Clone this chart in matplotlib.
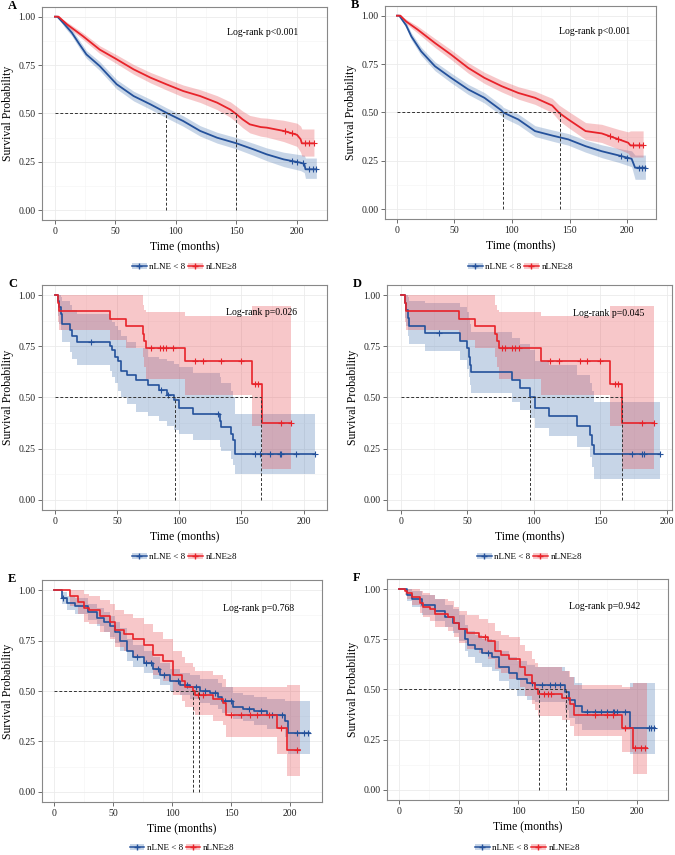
import numpy as np
import matplotlib
matplotlib.use('Agg')
import matplotlib.pyplot as plt
from matplotlib.patches import Patch
from matplotlib.lines import Line2D

plt.rcParams['font.family'] = ['Liberation Serif', 'DejaVu Serif']

# ---------------- dados ----------------
labels = ['nLNE < 8', 'nLNE\u22658']
panel_letters = ['A', 'B', 'C', 'D', 'E', 'F']
pvalues = ['Log-rank p<0.001', 'Log-rank p<0.001', 'Log-rank p=0.026',
           'Log-rank p=0.045', 'Log-rank p=0.768', 'Log-rank p=0.942']
xticks = [0, 50, 100, 150, 200]
yticks = [0.0, 0.25, 0.5, 0.75, 1.0]

# A
a_blue_t = [0, 2, 8, 14, 20, 26, 37, 51, 65, 79, 92, 106, 120, 134, 150, 164, 175, 189, 203, 206, 207, 216]
a_blue_s = [1.0, 1.0, 0.96, 0.917, 0.86, 0.805, 0.745, 0.651, 0.59, 0.547, 0.504, 0.461, 0.41, 0.375, 0.346, 0.315, 0.289, 0.263, 0.246, 0.24, 0.212, 0.212]
a_blue_lo = [1.0, 1.0, 0.945, 0.9, 0.84, 0.785, 0.722, 0.627, 0.565, 0.521, 0.478, 0.434, 0.383, 0.347, 0.317, 0.284, 0.256, 0.226, 0.205, 0.195, 0.165, 0.165]
a_blue_hi = [1.0, 1.0, 0.975, 0.934, 0.88, 0.825, 0.768, 0.675, 0.615, 0.573, 0.53, 0.488, 0.437, 0.403, 0.375, 0.346, 0.322, 0.3, 0.287, 0.285, 0.27, 0.27]
a_blue_cens = [196, 200, 205, 210, 213, 216]
a_red_t = [0, 3, 10, 23, 37, 51, 65, 79, 92, 106, 120, 134, 145, 150, 155, 161, 170, 175, 189, 200, 203, 204, 214]
a_red_s = [1.0, 1.0, 0.96, 0.90, 0.83, 0.78, 0.728, 0.685, 0.651, 0.616, 0.59, 0.556, 0.52, 0.496, 0.47, 0.444, 0.43, 0.427, 0.41, 0.39, 0.367, 0.346, 0.346]
a_red_lo = [1.0, 1.0, 0.948, 0.883, 0.81, 0.757, 0.703, 0.658, 0.622, 0.585, 0.557, 0.52, 0.48, 0.455, 0.427, 0.4, 0.383, 0.378, 0.355, 0.33, 0.3, 0.28, 0.28]
a_red_hi = [1.0, 1.0, 0.972, 0.917, 0.85, 0.803, 0.753, 0.712, 0.68, 0.647, 0.623, 0.592, 0.56, 0.537, 0.513, 0.49, 0.478, 0.476, 0.465, 0.45, 0.435, 0.42, 0.42]
a_red_cens = [190, 196, 207, 210, 214]
a_medians = [92, 150]

# B
b_blue_t = [0, 2, 8, 12.5, 21, 33, 47, 62, 76, 91, 92.4, 105.5, 120, 135, 149, 164, 178, 193, 204, 207, 216]
b_blue_s = [1, 1, 0.95, 0.893, 0.816, 0.739, 0.679, 0.619, 0.576, 0.51, 0.50, 0.464, 0.404, 0.381, 0.361, 0.326, 0.30, 0.278, 0.261, 0.215, 0.215]
b_blue_lo = [1, 1, 0.935, 0.875, 0.795, 0.716, 0.654, 0.593, 0.549, 0.483, 0.473, 0.436, 0.376, 0.352, 0.331, 0.295, 0.267, 0.242, 0.22, 0.155, 0.155]
b_blue_hi = [1, 1, 0.965, 0.911, 0.837, 0.762, 0.704, 0.645, 0.603, 0.537, 0.527, 0.492, 0.432, 0.41, 0.391, 0.357, 0.333, 0.314, 0.302, 0.28, 0.28]
b_blue_cens = [195, 200, 210, 213, 216]
b_red_t = [0, 3, 8, 18, 33, 47, 62, 76, 91, 105.5, 120, 135, 141, 149, 164, 178, 193, 201, 203, 214]
b_red_s = [1, 1, 0.97, 0.928, 0.859, 0.799, 0.73, 0.679, 0.636, 0.601, 0.576, 0.536, 0.498, 0.464, 0.404, 0.392, 0.361, 0.344, 0.33, 0.33]
b_red_lo = [1, 1, 0.958, 0.91, 0.836, 0.774, 0.703, 0.65, 0.606, 0.569, 0.542, 0.499, 0.458, 0.422, 0.36, 0.345, 0.31, 0.29, 0.27, 0.27]
b_red_hi = [1, 1, 0.982, 0.946, 0.882, 0.824, 0.757, 0.708, 0.666, 0.633, 0.61, 0.573, 0.538, 0.506, 0.448, 0.439, 0.412, 0.4, 0.405, 0.405]
b_red_cens = [185, 192, 205, 210, 214]
b_medians = [92, 142]

# C
c_blue_t = [0, 2.7, 3.5, 4.5, 5.5, 12, 13.5, 17.5, 44, 46, 48, 51, 53, 58, 65.5, 75, 84, 90, 96, 100, 111, 132.5, 134, 142, 143.5, 145, 209]
c_blue_s = [1, 0.97, 0.94, 0.91, 0.86, 0.83, 0.80, 0.77, 0.75, 0.73, 0.70, 0.68, 0.63, 0.61, 0.585, 0.56, 0.535, 0.51, 0.49, 0.45, 0.42, 0.385, 0.355, 0.32, 0.29, 0.225, 0.225]
c_blue_lo = [1, 0.90, 0.86, 0.83, 0.77, 0.72, 0.69, 0.66, 0.63, 0.60, 0.57, 0.53, 0.50, 0.47, 0.43, 0.41, 0.385, 0.36, 0.34, 0.32, 0.29, 0.26, 0.24, 0.20, 0.17, 0.125, 0.125]
c_blue_hi = [1, 1, 1, 0.99, 0.97, 0.95, 0.93, 0.91, 0.89, 0.87, 0.85, 0.83, 0.80, 0.77, 0.74, 0.70, 0.69, 0.68, 0.665, 0.65, 0.62, 0.60, 0.57, 0.53, 0.50, 0.42, 0.42]
c_blue_cens = [29, 85, 91, 131, 161, 165, 173, 181, 182, 194, 209]
c_red_t = [0, 2.7, 3.5, 44, 57, 71, 72, 73.6, 105, 158.5, 167, 190]
c_red_s = [1, 0.96, 0.925, 0.886, 0.85, 0.81, 0.775, 0.74, 0.678, 0.565, 0.377, 0.377]
c_red_lo = [1, 0.87, 0.83, 0.78, 0.74, 0.70, 0.65, 0.59, 0.51, 0.36, 0.15, 0.15]
c_red_hi = [1, 1, 1, 1, 1, 0.95, 0.93, 0.92, 0.90, 0.946, 0.946, 0.946]
c_red_cens = [77.6, 84.3, 87, 89.6, 95, 112.4, 119, 134, 150, 160.6, 163.3, 182, 190]
c_medians = [97, 166]

# D
d_blue_t = [0, 3.3, 4, 5, 6, 18, 44.6, 49.6, 51, 52, 53, 83.5, 89.7, 97, 100.5, 111, 132, 142, 143.6, 145, 195]
d_blue_s = [1, 0.96, 0.93, 0.89, 0.85, 0.815, 0.775, 0.74, 0.70, 0.66, 0.625, 0.585, 0.545, 0.50, 0.45, 0.41, 0.36, 0.315, 0.27, 0.225, 0.225]
d_blue_lo = [1, 0.89, 0.85, 0.80, 0.76, 0.725, 0.685, 0.64, 0.60, 0.56, 0.52, 0.48, 0.44, 0.40, 0.35, 0.31, 0.26, 0.21, 0.16, 0.10, 0.10]
d_blue_hi = [1, 1, 1, 0.99, 0.97, 0.96, 0.94, 0.92, 0.89, 0.86, 0.82, 0.79, 0.76, 0.73, 0.68, 0.66, 0.61, 0.57, 0.53, 0.48, 0.48]
d_blue_cens = [28.3, 173.7, 181.2, 182.5, 195]
d_red_t = [0, 2.8, 4, 44, 56, 71, 72, 73.4, 105, 157.4, 166, 190]
d_red_s = [1, 0.96, 0.925, 0.886, 0.85, 0.81, 0.775, 0.74, 0.678, 0.565, 0.377, 0.377]
d_red_lo = [1, 0.87, 0.83, 0.78, 0.74, 0.70, 0.65, 0.59, 0.51, 0.36, 0.15, 0.15]
d_red_hi = [1, 1, 1, 1, 1, 0.95, 0.93, 0.92, 0.90, 0.946, 0.946, 0.946]
d_red_cens = [76, 78.4, 83.5, 86, 88.5, 112.3, 118.5, 134.8, 139.8, 149.9, 160.6, 163.2, 181.2, 190]
d_medians = [97, 166]

# E
e_blue_t = [0, 6.5, 11, 18, 29, 36, 42, 47.5, 52, 56, 61.6, 67, 76, 84, 90, 98, 107, 115, 124, 132, 139, 142, 152, 160, 169, 180, 196, 198.6, 217]
e_blue_s = [1, 0.96, 0.935, 0.92, 0.89, 0.86, 0.84, 0.82, 0.79, 0.75, 0.70, 0.67, 0.64, 0.61, 0.58, 0.55, 0.53, 0.52, 0.50, 0.49, 0.47, 0.45, 0.42, 0.41, 0.40, 0.38, 0.35, 0.29, 0.29]
e_blue_lo = [1, 0.93, 0.9, 0.88, 0.85, 0.82, 0.79, 0.77, 0.74, 0.70, 0.65, 0.62, 0.59, 0.56, 0.53, 0.50, 0.48, 0.46, 0.44, 0.43, 0.41, 0.39, 0.36, 0.35, 0.33, 0.31, 0.27, 0.19, 0.19]
e_blue_hi = [1, 0.99, 0.97, 0.96, 0.93, 0.91, 0.89, 0.87, 0.84, 0.81, 0.76, 0.73, 0.70, 0.67, 0.64, 0.61, 0.59, 0.58, 0.56, 0.56, 0.54, 0.52, 0.49, 0.48, 0.47, 0.46, 0.45, 0.45, 0.45]
e_blue_cens = [8, 70, 78, 82, 88, 93, 105, 113, 120, 128, 136, 145, 150, 165, 175, 185, 193, 206, 212, 215]
e_red_t = [0, 13.5, 20.6, 25, 30, 39, 47.5, 52, 59, 67, 76, 84, 92.6, 101, 108, 111, 118, 119.5, 135, 143.5, 146, 189, 197, 208]
e_red_s = [1, 0.97, 0.94, 0.91, 0.90, 0.87, 0.84, 0.80, 0.78, 0.76, 0.73, 0.68, 0.65, 0.58, 0.55, 0.52, 0.50, 0.48, 0.46, 0.44, 0.38, 0.315, 0.21, 0.21]
e_red_lo = [1, 0.92, 0.88, 0.84, 0.83, 0.79, 0.76, 0.72, 0.70, 0.67, 0.64, 0.58, 0.55, 0.48, 0.45, 0.42, 0.40, 0.38, 0.35, 0.33, 0.27, 0.19, 0.08, 0.08]
e_red_hi = [1, 1, 1, 0.98, 0.97, 0.95, 0.93, 0.90, 0.88, 0.86, 0.83, 0.79, 0.76, 0.70, 0.67, 0.64, 0.62, 0.60, 0.58, 0.56, 0.52, 0.52, 0.53, 0.53]
e_red_cens = [122, 126, 150, 158, 166, 172, 182, 192, 206]
e_medians = [123, 118]

# F
f_blue_t = [0, 6.5, 10.7, 19, 30, 38.7, 45.7, 50, 55.5, 58, 64, 69.5, 78, 83.6, 92, 99, 107.4, 114.4, 139.7, 142.5, 148, 153.7, 194.4, 215]
f_blue_s = [1, 0.97, 0.95, 0.92, 0.89, 0.86, 0.83, 0.80, 0.75, 0.72, 0.70, 0.68, 0.66, 0.61, 0.58, 0.55, 0.53, 0.52, 0.49, 0.45, 0.42, 0.39, 0.31, 0.31]
f_blue_lo = [1, 0.94, 0.91, 0.87, 0.84, 0.81, 0.78, 0.74, 0.69, 0.66, 0.63, 0.61, 0.59, 0.54, 0.50, 0.47, 0.45, 0.44, 0.40, 0.36, 0.33, 0.30, 0.18, 0.18]
f_blue_hi = [1, 1, 0.99, 0.97, 0.95, 0.92, 0.90, 0.87, 0.82, 0.79, 0.77, 0.75, 0.74, 0.69, 0.66, 0.64, 0.62, 0.61, 0.59, 0.56, 0.53, 0.50, 0.53, 0.53]
f_blue_cens = [75, 112, 120, 127, 131, 135, 158, 165, 170, 175, 180, 181, 183, 190, 210, 212, 214]
f_red_t = [0, 5, 7, 10.7, 17.7, 20.5, 26, 30, 41.5, 46, 50, 57, 67, 75, 81, 86, 92, 102, 106, 111.6, 114.4, 117, 137, 144, 146.7, 187, 197, 208]
f_red_s = [1, 0.99, 0.98, 0.96, 0.93, 0.91, 0.90, 0.875, 0.86, 0.83, 0.80, 0.78, 0.76, 0.74, 0.69, 0.67, 0.65, 0.61, 0.57, 0.53, 0.50, 0.48, 0.46, 0.43, 0.375, 0.31, 0.21, 0.21]
f_red_lo = [1, 0.97, 0.95, 0.92, 0.88, 0.86, 0.84, 0.81, 0.79, 0.76, 0.73, 0.70, 0.68, 0.65, 0.60, 0.58, 0.55, 0.51, 0.47, 0.43, 0.40, 0.37, 0.35, 0.32, 0.27, 0.19, 0.08, 0.08]
f_red_hi = [1, 1, 1, 1, 0.99, 0.98, 0.97, 0.95, 0.94, 0.91, 0.89, 0.87, 0.85, 0.83, 0.79, 0.77, 0.76, 0.72, 0.69, 0.65, 0.63, 0.61, 0.59, 0.56, 0.52, 0.51, 0.53, 0.53]
f_red_cens = [72, 122, 125, 128, 165, 175, 180, 190, 198, 203, 207]
f_medians = [140, 118]

# ---------------- layout (pixels da imagem) ----------------
W, H = 675, 855
boxes = [(42, 7, 327, 220), (385, 6, 656, 219),
         (42, 285, 327, 510), (387, 285, 672, 510),
         (42, 580, 322, 802), (387, 579, 668, 800)]
xlims = [(-10.7, 224.8), (-10.4, 225.2), (-10.4, 218.9),
         (-10.5, 203.8), (-10.2, 227), (-10.1, 226)]
legend_y = [267, 267, 557, 557, 848, 848]
ptext_x = [172, 171.5, 166.6, 156, 173, 172.5]
ptext_y = [0.917, 0.92, 0.914, 0.909, 0.907, 0.914]
stepped = [False, False, True, True, True, True]

blue = '#24519B'
red = '#E8232A'
blue_fill = '#4876B2'
red_fill = '#E7484E'

panels = [
    (a_blue_t, a_blue_s, a_blue_lo, a_blue_hi, a_blue_cens, a_red_t, a_red_s, a_red_lo, a_red_hi, a_red_cens, a_medians),
    (b_blue_t, b_blue_s, b_blue_lo, b_blue_hi, b_blue_cens, b_red_t, b_red_s, b_red_lo, b_red_hi, b_red_cens, b_medians),
    (c_blue_t, c_blue_s, c_blue_lo, c_blue_hi, c_blue_cens, c_red_t, c_red_s, c_red_lo, c_red_hi, c_red_cens, c_medians),
    (d_blue_t, d_blue_s, d_blue_lo, d_blue_hi, d_blue_cens, d_red_t, d_red_s, d_red_lo, d_red_hi, d_red_cens, d_medians),
    (e_blue_t, e_blue_s, e_blue_lo, e_blue_hi, e_blue_cens, e_red_t, e_red_s, e_red_lo, e_red_hi, e_red_cens, e_medians),
    (f_blue_t, f_blue_s, f_blue_lo, f_blue_hi, f_blue_cens, f_red_t, f_red_s, f_red_lo, f_red_hi, f_red_cens, f_medians),
]


def surv_at(t, s, c, step):
    # valor da curva no tempo de censura
    t = np.asarray(t, float)
    s = np.asarray(s, float)
    c = np.asarray(c, float)
    if step:
        idx = np.searchsorted(t, c, side='right') - 1
        return s[idx]
    return np.interp(c, t, s)


fig = plt.figure(figsize=(W / 100, H / 100), dpi=100)

for i, p in enumerate(panels):
    l, t_, r, b = boxes[i]
    ax = fig.add_axes([l / W, 1 - b / H, (r - l) / W, (b - t_) / H])
    step = stepped[i]
    curves = [(p[0], p[1], p[2], p[3], p[4], blue, blue_fill),
              (p[5], p[6], p[7], p[8], p[9], red, red_fill)]
    for (tt, ss, lo, hi, cens, col, fcol) in curves:
        if step:
            ax.fill_between(tt, lo, hi, step='post', color=fcol, alpha=0.3, lw=0)
            ax.step(tt, ss, where='post', color=col, lw=1.2)
        else:
            ax.fill_between(tt, lo, hi, color=fcol, alpha=0.3, lw=0)
            ax.plot(tt, ss, color=col, lw=1.3)
        ax.plot(cens, surv_at(tt, ss, cens, step), ls='none', marker='+',
                ms=4, mew=0.8, color=col)

    # linhas da mediana
    med = p[10]
    ax.plot([0, max(med)], [0.5, 0.5], ls=(0, (3, 2)), color='#333333', lw=0.7)
    for m in med:
        ax.plot([m, m], [0, 0.5], ls=(0, (3, 2)), color='#333333', lw=0.7)

    ax.text(ptext_x[i], ptext_y[i], pvalues[i], ha='center', va='center', fontsize=7)

    ax.set_xlim(xlims[i])
    ax.set_ylim(-0.05, 1.05)
    ax.set_xticks(xticks)
    ax.set_yticks(yticks)
    ax.set_yticklabels(['0.00', '0.25', '0.50', '0.75', '1.00'])
    ax.set_xticks([25, 75, 125, 175], minor=True)
    ax.set_yticks([0.125, 0.375, 0.625, 0.875], minor=True)
    ax.grid(True, which='major', color='#EBEBEB', lw=0.6)
    ax.grid(True, which='minor', color='#F4F4F4', lw=0.4)
    ax.set_axisbelow(True)
    ax.tick_params(which='major', length=2.8, width=0.6, color='#555555',
                   labelsize=7, labelcolor='#222222', pad=2)
    ax.tick_params(which='minor', length=0)
    for sp in ax.spines.values():
        sp.set_color('#888888')
        sp.set_linewidth(0.8)
    ax.set_xlabel('Time (months)', fontsize=8.5, labelpad=3)
    ax.set_ylabel('Survival Probability', fontsize=8.5, labelpad=3)

    # legenda
    handles = [(Patch(facecolor=blue_fill, alpha=0.3, lw=0),
                Line2D([], [], color=blue, lw=1.1, marker='+', ms=4)),
               (Patch(facecolor=red_fill, alpha=0.3, lw=0),
                Line2D([], [], color=red, lw=1.1, marker='+', ms=4))]
    ax.legend(handles, labels, loc='center', ncol=2, frameon=False,
              bbox_to_anchor=(0.5, (b - legend_y[i]) / (b - t_)),
              fontsize=6.5, handlelength=1.6, handletextpad=0.3,
              columnspacing=0.3, borderpad=0)

    # letra do painel
    fig.text((l - 34) / W, 1 - (t_ - 1) / H, panel_letters[i], fontsize=9,
             fontweight='bold', ha='left', va='center')

fig.savefig('out.png', dpi=100)
